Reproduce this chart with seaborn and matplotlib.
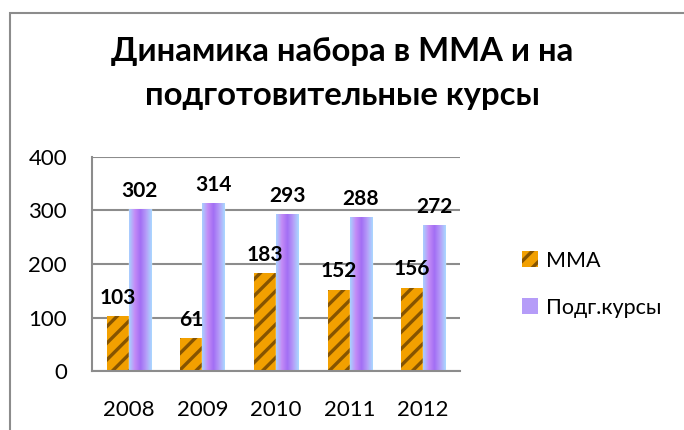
import numpy as np
import pandas as pd
import seaborn as sns
import matplotlib.pyplot as plt
from matplotlib.patches import Rectangle, Patch
from matplotlib.colors import LinearSegmentedColormap

years = ['2008', '2009', '2010', '2011', '2012']
mma = [103, 61, 183, 152, 156]
podg = [302, 314, 293, 288, 272]
series = ['ММА', 'Подг.курсы']
title = 'Динамика набора в ММА и на\nподготовительные курсы'

df = pd.DataFrame({
    'year': years * 2,
    'value': mma + podg,
    'series': [series[0]] * len(years) + [series[1]] * len(years),
})

sns.set_style('white')
plt.rcParams['font.family'] = ['Lato', 'DejaVu Sans']
plt.rcParams['text.color'] = 'black'
plt.rcParams['xtick.color'] = 'black'
plt.rcParams['ytick.color'] = 'black'
plt.rcParams['hatch.color'] = '#865400'
plt.rcParams['hatch.linewidth'] = 2.4

fig = plt.figure(figsize=(6.84, 4.30), dpi=100)
ax = fig.add_axes([0.1345, 0.137, 0.538, 0.498])

# outer chart frame (cut off at right and bottom like the reference)
fig.patches.append(Rectangle((10 / 684, -0.1), 1.2, (430 - 13) / 430 + 0.1,
                             transform=fig.transFigure, fill=False,
                             edgecolor='#8c8c8c', linewidth=1.5))

sns.barplot(data=df, x='year', y='value', hue='series', width=0.6,
            palette=['#f2a000', '#b08cf8'], saturation=1, legend=False, ax=ax)

# stripes on the MMA bars
for bar in ax.containers[0]:
    bar.set_hatch('//')
    bar.set_edgecolor('#865400')
    bar.set_linewidth(0)

# horizontal gradient on the course bars
grad = LinearSegmentedColormap.from_list(
    'g', ['#a8d0ff', '#c48cf6', '#a26ef4', '#b59cf8', '#aad8ff'])
row = np.linspace(0, 1, 64).reshape(1, -1)
for bar in ax.containers[1]:
    x0, w, h = bar.get_x(), bar.get_width(), bar.get_height()
    im = ax.imshow(row, cmap=grad, aspect='auto', extent=(x0, x0 + w, 0, h),
                   zorder=bar.get_zorder() + 0.1)
    im.set_clip_path(bar)

for cont in ax.containers:
    ax.bar_label(cont, fontsize=15, fontweight='bold', padding=6, color='black')

ax.set_xlim(-0.5, 4.5)
ax.set_ylim(0, 400)
ax.set_yticks([0, 100, 200, 300, 400])
ax.yaxis.grid(True, color='#8c8c8c', linewidth=1.5)
ax.set_axisbelow(True)
ax.tick_params(axis='both', length=0, labelsize=16)
ax.tick_params(axis='y', pad=18)
ax.tick_params(axis='x', pad=21)
ax.set_xlabel('')
ax.set_ylabel('')
for side in ['top', 'right']:
    ax.spines[side].set_visible(False)
for side in ['left', 'bottom']:
    ax.spines[side].set_color('#8c8c8c')
    ax.spines[side].set_linewidth(1.5)

fig.text(0.5, 0.829, title, ha='center', va='center', fontsize=23.7,
         fontweight='bold', linespacing=1.65)

handles = [Patch(facecolor='#f2a000', edgecolor='#865400', hatch='//', linewidth=0),
           Patch(facecolor='#b59cf8', linewidth=0)]
fig.legend(handles, series, loc='center left', bbox_to_anchor=(0.735, 0.339),
           frameon=False, fontsize=15.5, handlelength=0.75, handleheight=0.75,
           handletextpad=0.35, labelspacing=1.25)

fig.savefig('out.png', dpi=100)
